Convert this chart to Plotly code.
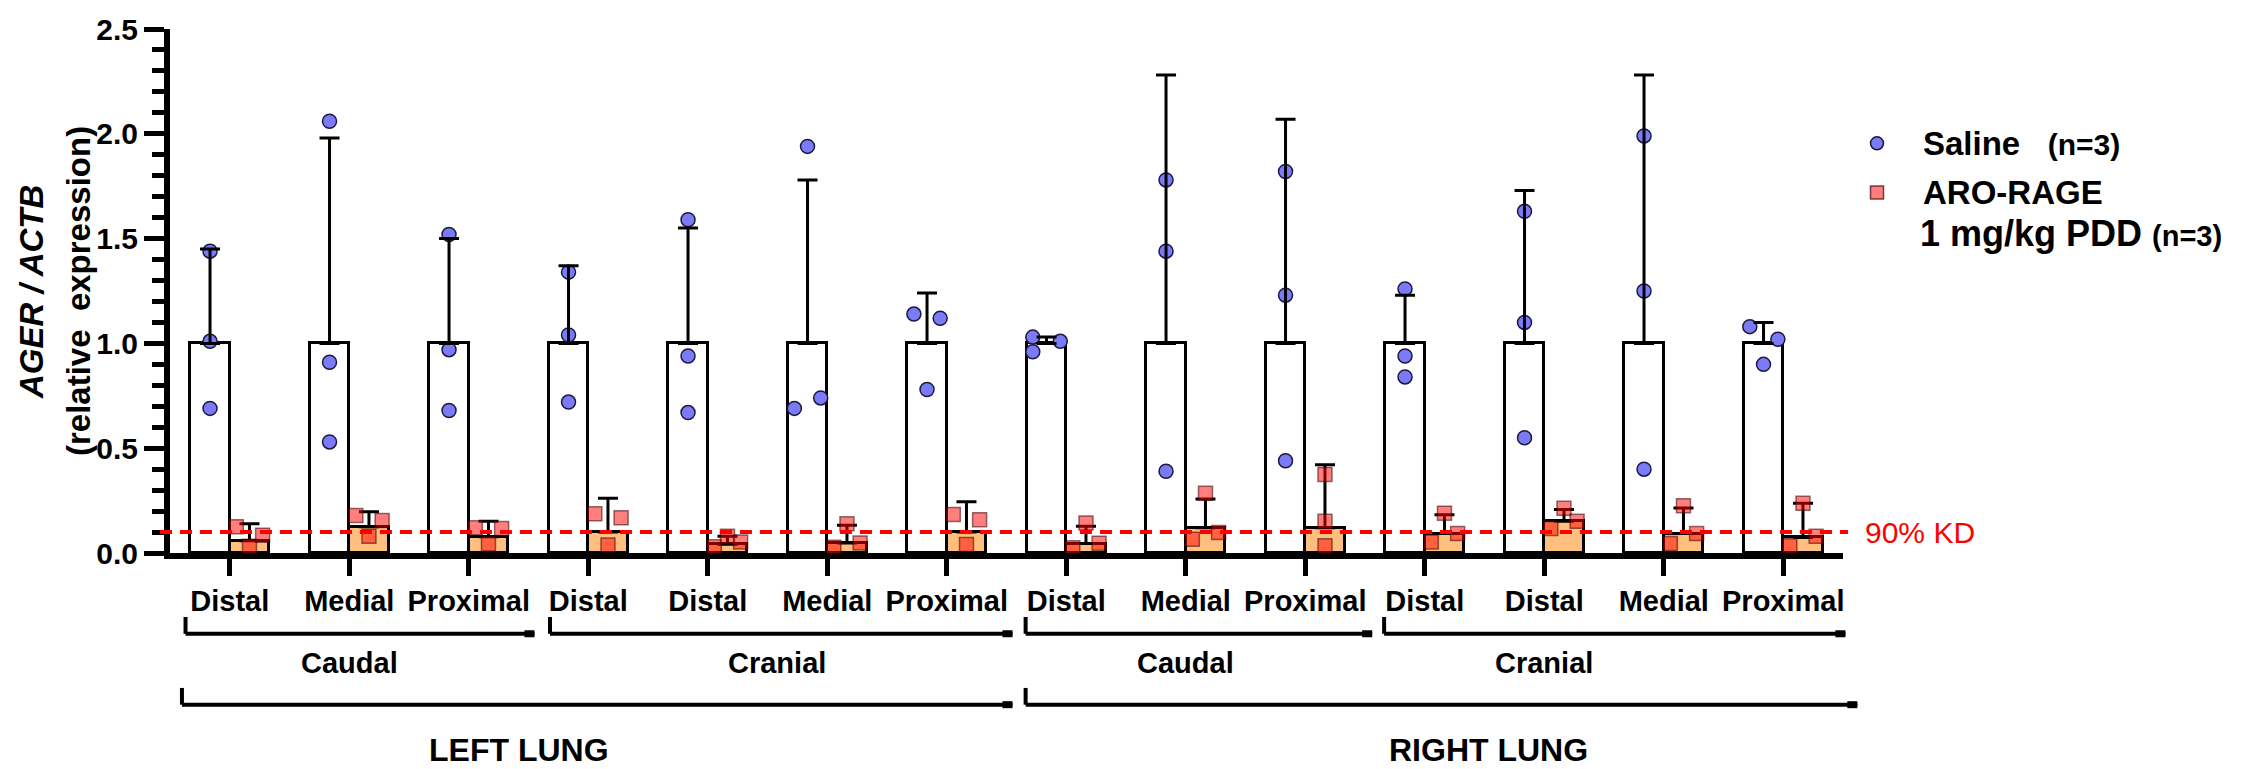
import plotly.graph_objects as go

# ---------------- data ----------------
region_labels = ["Distal", "Medial", "Proximal", "Distal", "Distal", "Medial", "Proximal",
                 "Distal", "Medial", "Proximal", "Distal", "Distal", "Medial", "Proximal"]
lobe_labels = ["Caudal", "Cranial", "Caudal", "Cranial"]
lung_labels = ["LEFT LUNG", "RIGHT LUNG"]

saline_mean = [1.0, 1.0, 1.0, 1.0, 1.0, 1.0, 1.0, 1.0, 1.0, 1.0, 1.0, 1.0, 1.0, 1.0]
saline_sd = [0.45, 0.98, 0.50, 0.37, 0.55, 0.78, 0.24, 0.03, 1.28, 1.07, 0.23, 0.73, 1.28, 0.10]
saline_pts = [
    [1.44, 1.01, 0.69], [2.06, 0.91, 0.53], [1.52, 0.97, 0.68], [1.34, 1.04, 0.72],
    [1.59, 0.94, 0.67], [1.94, 0.69, 0.74], [1.14, 1.12, 0.78], [1.03, 0.96, 1.01],
    [1.78, 1.44, 0.39], [1.82, 1.23, 0.44], [1.26, 0.94, 0.84], [1.63, 1.10, 0.55],
    [1.99, 1.25, 0.40], [1.08, 1.02, 0.90],
]
aro_mean = [0.058, 0.125, 0.077, 0.100, 0.042, 0.048, 0.100, 0.045, 0.120, 0.120,
            0.093, 0.151, 0.093, 0.074]
aro_sd = [0.082, 0.072, 0.074, 0.161, 0.038, 0.084, 0.145, 0.083, 0.138, 0.301,
          0.089, 0.057, 0.122, 0.163]
aro_pts = [
    [0.125, 0.032, 0.085], [0.179, 0.080, 0.155], [0.120, 0.043, 0.117], [0.187, 0.038, 0.168],
    [0.030, 0.080, 0.053], [0.027, 0.139, 0.048], [0.184, 0.041, 0.159], [0.025, 0.143, 0.047],
    [0.066, 0.285, 0.098], [0.375, 0.151, 0.034], [0.053, 0.190, 0.093], [0.117, 0.213, 0.151],
    [0.045, 0.226, 0.093], [0.034, 0.237, 0.080],
]
kd_threshold = 0.1

# ---------------- style ----------------
FONT = "Liberation Sans, Arial, sans-serif"
BAR_W = 0.33
SAL_OFF = -BAR_W / 2
ARO_OFF = BAR_W / 2
# horizontal scatter of points inside each bar (category units)
sal_jitter = [[0, 0, 0]] * 5 + [[0, -0.11, 0.11], [-0.11, 0.11, 0], [-0.115, -0.115, 0.115],
                                [0, 0, 0], [0, 0, 0], [0, 0, 0], [0, 0, 0], [0, 0, 0],
                                [-0.115, 0.12, 0]]
aro_jitter = [[-0.11, 0, 0.11]] * 9 + [[0, 0, 0]] + [[-0.11, 0, 0.11]] * 4

idx = list(range(len(region_labels)))
n = len(idx)

fig = go.Figure()

fig.add_trace(go.Bar(x=idx, y=saline_mean, width=BAR_W, offset=-BAR_W,
                     marker=dict(color="white", line=dict(color="black", width=3)),
                     showlegend=False, hoverinfo="skip"))
fig.add_trace(go.Bar(x=idx, y=aro_mean, width=BAR_W, offset=0,
                     marker=dict(color="#FFC07F", line=dict(color="black", width=3)),
                     showlegend=False, hoverinfo="skip"))

# saline points
sx, sy = [], []
for i in idx:
    for k, v in enumerate(saline_pts[i]):
        sx.append(i + SAL_OFF + sal_jitter[i][k])
        sy.append(v)
fig.add_trace(go.Scatter(x=sx, y=sy, mode="markers", name="Saline",
                         marker=dict(symbol="circle", size=14, color="#7B7BF7",
                                     line=dict(color="#1a1a40", width=1.5)),
                         showlegend=False, cliponaxis=False))

# error bars (upper SD)
fig.add_trace(go.Scatter(x=[i + SAL_OFF for i in idx], y=saline_mean, mode="markers",
                         marker=dict(size=1, opacity=0),
                         error_y=dict(type="data", symmetric=False, array=saline_sd,
                                      arrayminus=[0] * n, thickness=3, width=10, color="black"),
                         showlegend=False, hoverinfo="skip"))
fig.add_trace(go.Scatter(x=[i + ARO_OFF for i in idx], y=aro_mean, mode="markers",
                         marker=dict(size=1, opacity=0),
                         error_y=dict(type="data", symmetric=False, array=aro_sd,
                                      arrayminus=[0] * n, thickness=3, width=10, color="black"),
                         showlegend=False, hoverinfo="skip"))

# ARO-RAGE points
ax_, ay_ = [], []
for i in idx:
    for k, v in enumerate(aro_pts[i]):
        ax_.append(i + ARO_OFF + aro_jitter[i][k])
        ay_.append(v)
fig.add_trace(go.Scatter(x=ax_, y=ay_, mode="markers", name="ARO-RAGE",
                         marker=dict(symbol="square", size=14, color="rgba(255,0,0,0.5)",
                                     line=dict(color="rgba(60,0,0,0.55)", width=1.5)),
                         showlegend=False, cliponaxis=False))

# ---------------- layout ----------------
L, R, T, B = 170, 415, 21, 216
W, H = 2258, 769
PW = W - L - R
PH = H - T - B
XMIN, XMAX = -0.5, 13.5


def px_x(i):
    return (i - XMIN) / (XMAX - XMIN)


def py(pix):
    return (H - B - pix) / PH


shapes = []
annotations = []

# 90% KD line
shapes.append(dict(type="line", xref="paper", yref="y", x0=-0.006, x1=1.003,
                   y0=kd_threshold, y1=kd_threshold, layer="above",
                   line=dict(color="#FF0000", width=4, dash="12px,8px")))
annotations.append(dict(text="90% KD", xref="paper", yref="y", x=1.012, y=kd_threshold,
                        xanchor="left", yanchor="middle", showarrow=False,
                        font=dict(family=FONT, size=30, color="#FF0000")))

# lobe brackets
lobe_spans = [(-0.37, 2.55), (2.68, 6.55), (6.66, 9.56), (9.66, 13.52)]
lobe_centers = [1.0, 4.58, 8.0, 11.0]
lung_spans = [(-0.40, 6.55), (6.66, 13.62)]
lung_centers = [2.42, 10.53]


def bracket(span, ypix):
    x0, x1 = px_x(span[0]), px_x(span[1])
    y = py(ypix)
    shapes.append(dict(type="line", xref="paper", yref="paper", x0=x0, x1=x1, y0=y, y1=y,
                       line=dict(color="black", width=4)))
    shapes.append(dict(type="line", xref="paper", yref="paper", x0=x0, x1=x0, y0=y,
                       y1=py(ypix - 17), line=dict(color="black", width=4)))
    shapes.append(dict(type="line", xref="paper", yref="paper", x0=x1 - 10 / PW, x1=x1,
                       y0=y, y1=y, line=dict(color="black", width=7)))


for s in lobe_spans:
    bracket(s, 635)
for s in lung_spans:
    bracket(s, 707)

for lab, c in zip(lobe_labels, lobe_centers):
    annotations.append(dict(text=f"<b>{lab}</b>", xref="paper", yref="paper", x=px_x(c),
                            y=py(665), xanchor="center", yanchor="middle", showarrow=False,
                            font=dict(family=FONT, size=29, color="black")))
for lab, c in zip(lung_labels, lung_centers):
    annotations.append(dict(text=f"<b>{lab}</b>", xref="paper", yref="paper", x=px_x(c),
                            y=py(753), xanchor="center", yanchor="middle", showarrow=False,
                            font=dict(family=FONT, size=32, color="black")))

# y axis title (two lines)
annotations.append(dict(text="<b><i>AGER / ACTB</i></b>", xref="paper", yref="paper",
                        x=(32 - L) / PW, y=py(288), textangle=-90, xanchor="center",
                        yanchor="middle", showarrow=False,
                        font=dict(family=FONT, size=33, color="black")))
annotations.append(dict(text="<b>(relative  expression)</b>", xref="paper", yref="paper",
                        x=(78 - L) / PW, y=py(287), textangle=-90, xanchor="center",
                        yanchor="middle", showarrow=False,
                        font=dict(family=FONT, size=33, color="black")))

# legend
leg_mx = (1877 - L) / PW
leg_tx = (1921 - L) / PW
shapes.append(dict(type="circle", xref="paper", yref="paper", xsizemode="pixel",
                   ysizemode="pixel", xanchor=leg_mx, yanchor=py(137),
                   x0=-6.5, x1=6.5, y0=-6.5, y1=6.5, fillcolor="#7B7BF7",
                   line=dict(color="#1a1a40", width=1.5)))
shapes.append(dict(type="rect", xref="paper", yref="paper", xsizemode="pixel",
                   ysizemode="pixel", xanchor=leg_mx, yanchor=py(187),
                   x0=-6.5, x1=6.5, y0=-6.5, y1=6.5, fillcolor="rgba(255,0,0,0.5)",
                   line=dict(color="rgba(60,0,0,0.7)", width=1.5)))
annotations.append(dict(text="<b>Saline</b>   <b><span style='font-size:30px'>(n=3)</span></b>",
                        xref="paper", yref="paper", x=leg_tx, y=py(137), xanchor="left",
                        yanchor="middle", showarrow=False,
                        font=dict(family=FONT, size=33, color="black")))
annotations.append(dict(text="<b>ARO-RAGE</b>", xref="paper", yref="paper", x=leg_tx,
                        y=py(187), xanchor="left", yanchor="middle", showarrow=False,
                        font=dict(family=FONT, size=33, color="black")))
annotations.append(dict(text="<b>1 mg/kg PDD</b> <b><span style='font-size:29px'>(n=3)</span></b>",
                        xref="paper", yref="paper", x=(1918 - L) / PW, y=py(229),
                        xanchor="left", yanchor="middle", showarrow=False,
                        font=dict(family=FONT, size=36, color="black")))

fig.update_layout(
    width=W, height=H,
    margin=dict(l=L, r=R, t=T, b=B, pad=0),
    paper_bgcolor="white", plot_bgcolor="white",
    barmode="overlay", bargap=0,
    font=dict(family=FONT, color="black"),
    shapes=shapes, annotations=annotations,
    showlegend=False,
    xaxis=dict(range=[XMIN, XMAX], tickmode="array", tickvals=idx, ticktext=region_labels,
               showgrid=False, zeroline=False, showline=True, linecolor="black", linewidth=6,
               ticks="outside", ticklen=17, tickwidth=5, tickcolor="black",
               tickfont=dict(family=FONT, size=29, color="black", weight="bold"),
               fixedrange=True),
    yaxis=dict(range=[0, 2.5], dtick=0.5, tick0=0, tickformat=".1f",
               showgrid=False, zeroline=False, showline=True, linecolor="black", linewidth=6,
               ticks="outside", ticklen=20, tickwidth=5, tickcolor="black",
               tickfont=dict(family=FONT, size=30, color="black", weight="bold"),
               minor=dict(dtick=0.1, ticks="outside", ticklen=12, tickwidth=5,
                          tickcolor="black", showgrid=False),
               fixedrange=True),
)

fig.write_html("out.html", config={"displayModeBar": False},
               post_script="document.body.style.margin='0';document.body.style.overflow='hidden';")
